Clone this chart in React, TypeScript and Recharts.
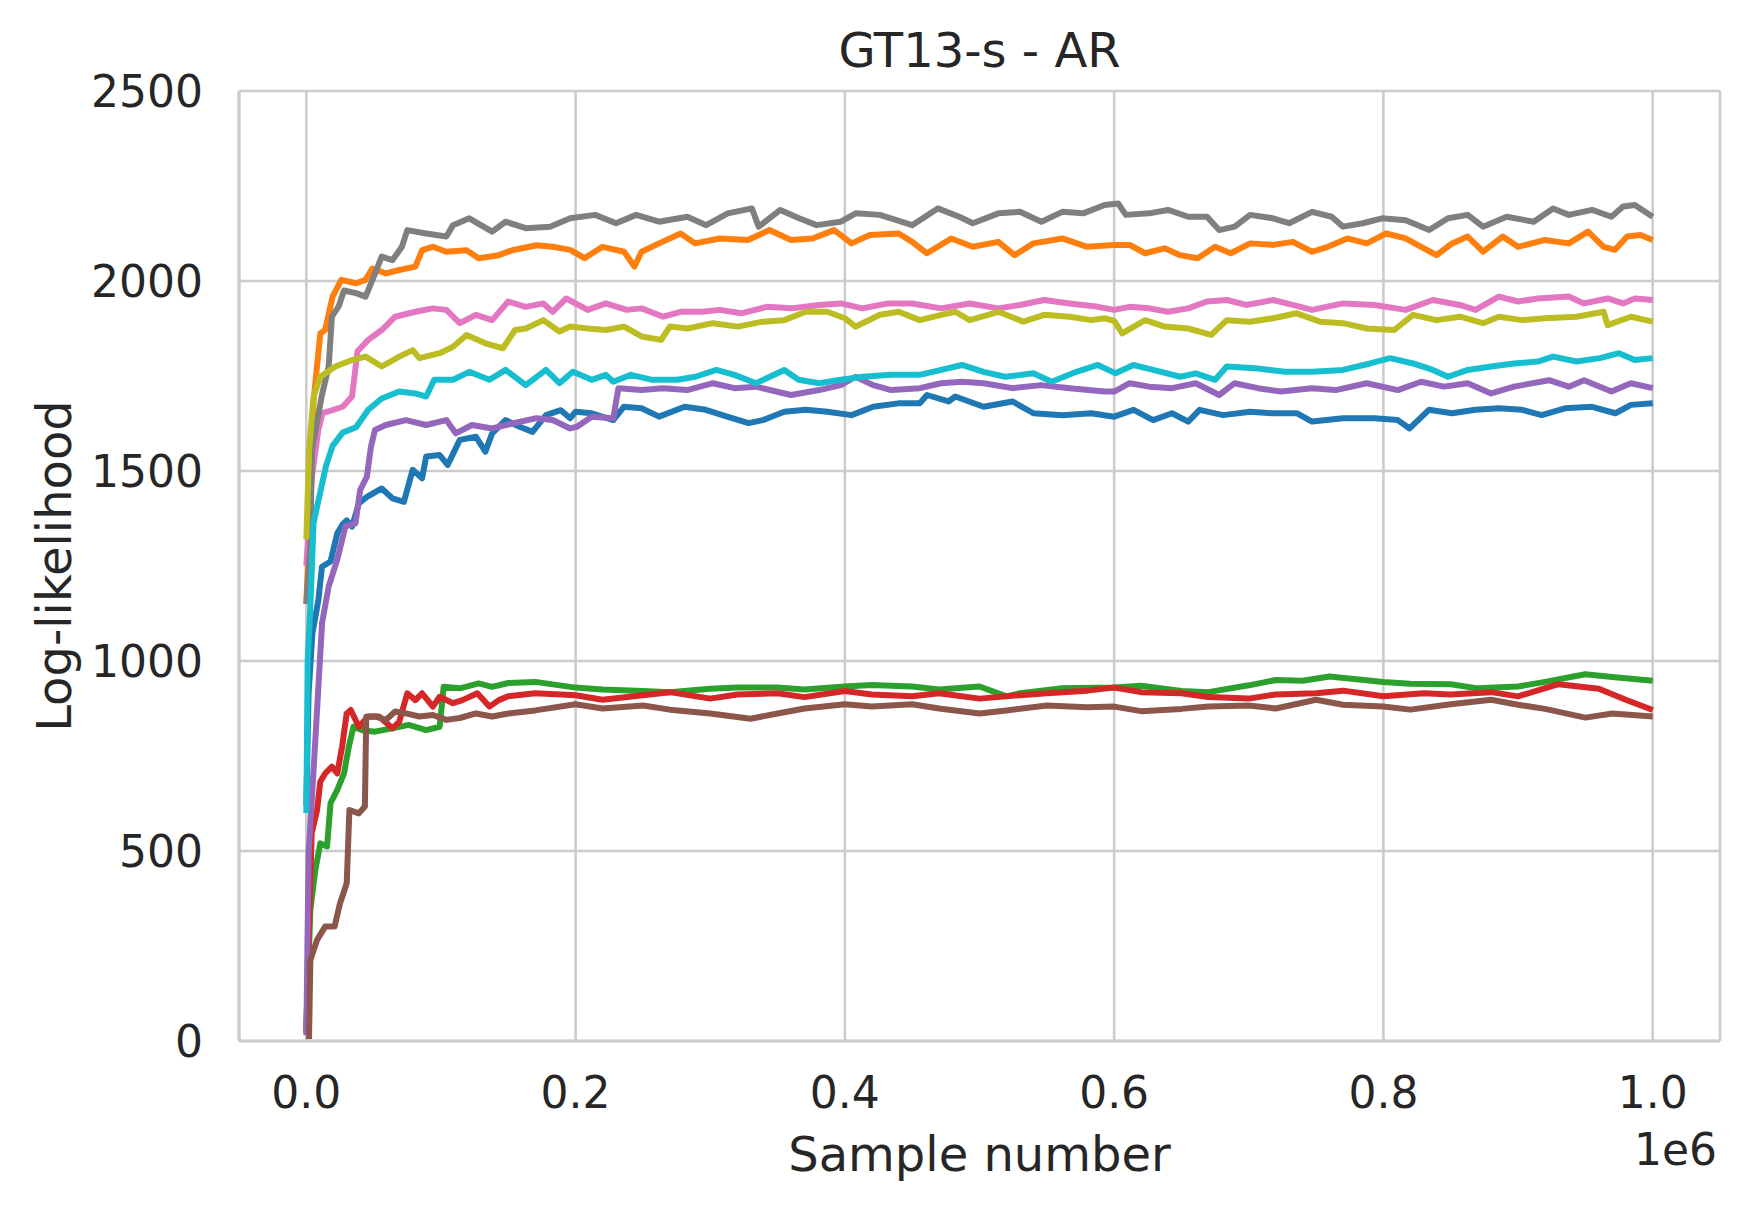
import React from 'react';
import { LineChart, Line, XAxis, YAxis, CartesianGrid, Label } from 'recharts';

// each run: [sample (x 1e6), log-likelihood]
type Pt = [number, number];

const blueRun: Pt[] = [
  [0, 620], [0.0017, 915], [0.0045, 1072], [0.009, 1161], [0.0116, 1248], [0.018, 1262], [0.023, 1336],
  [0.027, 1360], [0.030, 1370], [0.034, 1354], [0.039, 1415], [0.045, 1432], [0.056, 1454], [0.064, 1428],
  [0.0725, 1419], [0.079, 1503], [0.086, 1481], [0.089, 1538], [0.099, 1542], [0.105, 1516], [0.114, 1582],
  [0.126, 1590], [0.133, 1551], [0.138, 1599], [0.148, 1634], [0.158, 1617], [0.168, 1603], [0.178, 1647],
  [0.189, 1660], [0.196, 1639], [0.200, 1656], [0.212, 1652], [0.228, 1634], [0.2358, 1669], [0.249, 1665],
  [0.262, 1643], [0.281, 1669], [0.2967, 1661], [0.3126, 1643], [0.3285, 1626], [0.339, 1634], [0.355, 1656],
  [0.371, 1661], [0.387, 1656], [0.405, 1647], [0.421, 1669], [0.4397, 1678], [0.4556, 1678], [0.461, 1700],
  [0.477, 1683], [0.482, 1696], [0.503, 1669], [0.5245, 1683], [0.540, 1652], [0.5615, 1647], [0.583, 1652],
  [0.600, 1643], [0.6144, 1661], [0.629, 1634], [0.643, 1652], [0.655, 1630], [0.6635, 1661], [0.681, 1647],
  [0.701, 1656], [0.718, 1652], [0.7356, 1652], [0.747, 1630], [0.770, 1639], [0.7934, 1639], [0.8107, 1634],
  [0.8194, 1612], [0.8338, 1661], [0.851, 1652], [0.8684, 1661], [0.8857, 1665], [0.903, 1661], [0.9175, 1647],
  [0.9348, 1665], [0.955, 1669], [0.9723, 1652], [0.9838, 1674], [1.0, 1678],
];

const orangeRun: Pt[] = [
  [0, 1150], [0.002, 1330], [0.0054, 1687], [0.0104, 1862], [0.014, 1871], [0.0195, 1959], [0.026, 2003],
  [0.037, 1994], [0.044, 2003], [0.049, 2033], [0.059, 2020], [0.069, 2029], [0.081, 2038], [0.086, 2081],
  [0.094, 2090], [0.104, 2077], [0.119, 2081], [0.128, 2060], [0.143, 2068], [0.153, 2081], [0.171, 2094],
  [0.183, 2090], [0.196, 2082], [0.2066, 2060], [0.220, 2090], [0.236, 2077], [0.2437, 2038], [0.249, 2077],
  [0.262, 2099], [0.278, 2125], [0.2887, 2099], [0.307, 2112], [0.328, 2108], [0.344, 2134], [0.360, 2108],
  [0.376, 2112], [0.392, 2134], [0.405, 2099], [0.4185, 2121], [0.440, 2125], [0.450, 2103], [0.461, 2073],
  [0.479, 2112], [0.495, 2090], [0.514, 2103], [0.526, 2068], [0.540, 2099], [0.5615, 2112], [0.580, 2090],
  [0.600, 2095], [0.6115, 2095], [0.623, 2073], [0.6375, 2086], [0.649, 2068], [0.662, 2060], [0.675, 2090],
  [0.6866, 2073], [0.701, 2099], [0.718, 2095], [0.7327, 2103], [0.747, 2077], [0.7587, 2090], [0.7732, 2112],
  [0.7876, 2099], [0.802, 2125], [0.8165, 2112], [0.828, 2090], [0.8395, 2068], [0.851, 2099], [0.8626, 2117],
  [0.874, 2077], [0.8886, 2117], [0.900, 2090], [0.920, 2108], [0.9377, 2099], [0.952, 2130], [0.9636, 2090],
  [0.972, 2082], [0.981, 2117], [0.991, 2121], [1.0, 2108],
];

const greenRun: Pt[] = [
  [0, 30], [0.003, 345], [0.0067, 450], [0.0104, 520], [0.0154, 512], [0.018, 626], [0.023, 661], [0.028, 704],
  [0.0316, 775], [0.035, 827], [0.0415, 818], [0.051, 814], [0.064, 823], [0.076, 832], [0.089, 818],
  [0.099, 827], [0.102, 932], [0.114, 928], [0.128, 941], [0.138, 932], [0.15, 942], [0.17, 945], [0.2, 930],
  [0.22, 925], [0.25, 921], [0.27, 918], [0.3, 927], [0.32, 930], [0.35, 930], [0.37, 925], [0.4, 933],
  [0.42, 937], [0.45, 933], [0.47, 925], [0.5, 933], [0.52, 907], [0.53, 915], [0.56, 928], [0.6, 930],
  [0.62, 935], [0.65, 921], [0.67, 918], [0.7, 936], [0.72, 950], [0.74, 948], [0.76, 959], [0.78, 952],
  [0.8, 945], [0.82, 940], [0.85, 939], [0.87, 928], [0.9, 933], [0.92, 945], [0.95, 965], [0.97, 958],
  [1.0, 948],
];

const redRun: Pt[] = [
  [0, 20], [0.0017, 266], [0.004, 547], [0.008, 608], [0.0104, 683], [0.014, 704], [0.019, 722], [0.023, 704],
  [0.0266, 775], [0.030, 862], [0.033, 871], [0.039, 827], [0.046, 854], [0.054, 854], [0.064, 823],
  [0.069, 840], [0.075, 915], [0.081, 897], [0.086, 915], [0.094, 880], [0.099, 906], [0.109, 889],
  [0.116, 897], [0.127, 915], [0.136, 880], [0.143, 897], [0.15, 907], [0.17, 915], [0.2, 910], [0.22, 898],
  [0.25, 910], [0.27, 918], [0.3, 901], [0.32, 912], [0.35, 915], [0.37, 905], [0.4, 921], [0.42, 912],
  [0.45, 907], [0.47, 915], [0.5, 901], [0.53, 910], [0.55, 915], [0.58, 922], [0.6, 930], [0.62, 918],
  [0.65, 915], [0.67, 905], [0.7, 901], [0.72, 912], [0.75, 915], [0.77, 922], [0.8, 907], [0.83, 915],
  [0.85, 912], [0.88, 918], [0.9, 907], [0.93, 939], [0.96, 927], [0.98, 898], [1.0, 871],
];

const purpleRun: Pt[] = [
  [0, 15], [0.0017, 494], [0.0067, 792], [0.0117, 1100], [0.0166, 1196], [0.0229, 1266], [0.029, 1354],
  [0.0365, 1362], [0.040, 1450], [0.045, 1485], [0.048, 1564], [0.051, 1608], [0.059, 1621], [0.074, 1634],
  [0.089, 1621], [0.104, 1634], [0.111, 1599], [0.123, 1621], [0.138, 1612], [0.153, 1625], [0.171, 1639],
  [0.183, 1634], [0.196, 1612], [0.2013, 1617], [0.212, 1643], [0.228, 1639], [0.2318, 1718], [0.249, 1713],
  [0.265, 1718], [0.283, 1713], [0.302, 1731], [0.318, 1718], [0.334, 1722], [0.360, 1700], [0.381, 1713],
  [0.397, 1726], [0.408, 1748], [0.421, 1726], [0.4344, 1713], [0.4556, 1718], [0.4715, 1731], [0.487, 1735],
  [0.503, 1731], [0.5245, 1718], [0.5457, 1726], [0.567, 1718], [0.593, 1709], [0.600, 1709], [0.6115, 1731],
  [0.626, 1722], [0.643, 1718], [0.6606, 1731], [0.678, 1700], [0.6895, 1731], [0.7068, 1718], [0.724, 1709],
  [0.747, 1718], [0.7645, 1713], [0.7876, 1731], [0.8107, 1713], [0.828, 1735], [0.845, 1722], [0.8626, 1731],
  [0.880, 1704], [0.897, 1722], [0.923, 1739], [0.9377, 1722], [0.949, 1739], [0.9694, 1709], [0.9838, 1731],
  [1.0, 1718],
];

const brownRun: Pt[] = [
  [0.002, 5], [0.0025, 108], [0.003, 213], [0.008, 266], [0.014, 301], [0.021, 301], [0.025, 362],
  [0.030, 415], [0.032, 608], [0.039, 599], [0.0435, 617], [0.0445, 853], [0.051, 854], [0.059, 845],
  [0.066, 867], [0.074, 862], [0.084, 854], [0.094, 858], [0.104, 845], [0.114, 850], [0.126, 862],
  [0.138, 854], [0.15, 862], [0.17, 870], [0.2, 886], [0.22, 875], [0.25, 883], [0.27, 872], [0.3, 862],
  [0.33, 848], [0.35, 862], [0.37, 875], [0.4, 886], [0.42, 880], [0.45, 886], [0.47, 875], [0.5, 862],
  [0.52, 870], [0.55, 883], [0.58, 878], [0.6, 880], [0.62, 868], [0.65, 874], [0.67, 880], [0.7, 883],
  [0.72, 875], [0.75, 898], [0.77, 885], [0.8, 880], [0.82, 872], [0.85, 886], [0.88, 898], [0.9, 885],
  [0.92, 874], [0.95, 851], [0.97, 862], [1.0, 854],
];

const pinkRun: Pt[] = [
  [0, 1250], [0.004, 1480], [0.009, 1610], [0.012, 1652], [0.0195, 1660], [0.027, 1669], [0.034, 1696],
  [0.038, 1815], [0.046, 1845], [0.056, 1871], [0.066, 1906], [0.081, 1919], [0.094, 1928], [0.104, 1924],
  [0.114, 1889], [0.126, 1911], [0.138, 1897], [0.150, 1946], [0.163, 1932], [0.176, 1941], [0.183, 1919],
  [0.193, 1954], [0.209, 1924], [0.2225, 1941], [0.238, 1924], [0.249, 1928], [0.265, 1906], [0.278, 1919],
  [0.294, 1919], [0.307, 1924], [0.323, 1915], [0.342, 1932], [0.360, 1928], [0.381, 1937], [0.397, 1941],
  [0.413, 1928], [0.432, 1941], [0.450, 1941], [0.4715, 1928], [0.4927, 1941], [0.514, 1928], [0.530, 1937],
  [0.548, 1950], [0.567, 1941], [0.588, 1932], [0.600, 1924], [0.6115, 1932], [0.626, 1928], [0.640, 1919],
  [0.655, 1928], [0.669, 1946], [0.6837, 1950], [0.698, 1937], [0.718, 1950], [0.7327, 1937], [0.747, 1924],
  [0.770, 1941], [0.7934, 1937], [0.8165, 1924], [0.8367, 1950], [0.8568, 1937], [0.8684, 1924], [0.8857, 1959],
  [0.900, 1946], [0.9146, 1954], [0.9377, 1959], [0.949, 1941], [0.9665, 1954], [0.978, 1941], [0.9867, 1954],
  [1.0, 1950],
];

const grayRun: Pt[] = [
  [0, 1150], [0.003, 1309], [0.0042, 1555], [0.0116, 1700], [0.0166, 1775], [0.019, 1906], [0.024, 1933],
  [0.028, 1975], [0.037, 1968], [0.044, 1959], [0.050, 2011], [0.056, 2064], [0.064, 2055], [0.071, 2090],
  [0.075, 2134], [0.089, 2125], [0.104, 2117], [0.109, 2147], [0.121, 2165], [0.138, 2130], [0.148, 2156],
  [0.163, 2139], [0.181, 2143], [0.196, 2165], [0.2146, 2174], [0.230, 2152], [0.245, 2174], [0.262, 2156],
  [0.283, 2169], [0.297, 2147], [0.313, 2178], [0.331, 2191], [0.336, 2143], [0.352, 2187], [0.366, 2165],
  [0.379, 2147], [0.397, 2156], [0.408, 2178], [0.426, 2174], [0.450, 2147], [0.469, 2191], [0.485, 2169],
  [0.495, 2152], [0.514, 2178], [0.530, 2182], [0.546, 2156], [0.5615, 2182], [0.577, 2178], [0.593, 2200],
  [0.603, 2204], [0.6087, 2174], [0.626, 2178], [0.640, 2187], [0.655, 2169], [0.669, 2169], [0.678, 2134],
  [0.6895, 2143], [0.701, 2174], [0.718, 2165], [0.730, 2152], [0.747, 2182], [0.7616, 2169], [0.770, 2143],
  [0.7847, 2152], [0.799, 2165], [0.8165, 2160], [0.834, 2134], [0.848, 2165], [0.8626, 2174], [0.874, 2143],
  [0.8915, 2169], [0.9117, 2156], [0.926, 2191], [0.9377, 2174], [0.955, 2187], [0.9694, 2169], [0.978, 2196],
  [0.9867, 2200], [1.0, 2169],
];

const oliveRun: Pt[] = [
  [0, 1320], [0.0021, 1555], [0.0054, 1696], [0.0104, 1748], [0.0215, 1775], [0.034, 1792], [0.044, 1801],
  [0.056, 1775], [0.069, 1801], [0.079, 1818], [0.084, 1797], [0.099, 1810], [0.109, 1827], [0.119, 1858],
  [0.133, 1836], [0.146, 1823], [0.155, 1871], [0.163, 1875], [0.176, 1897], [0.188, 1867], [0.196, 1880],
  [0.209, 1875], [0.2225, 1871], [0.236, 1880], [0.249, 1854], [0.2636, 1845], [0.270, 1880], [0.283, 1875],
  [0.302, 1889], [0.3205, 1880], [0.339, 1893], [0.355, 1897], [0.371, 1919], [0.387, 1919], [0.400, 1902],
  [0.408, 1880], [0.426, 1911], [0.440, 1919], [0.4556, 1897], [0.4715, 1911], [0.482, 1919], [0.4927, 1897],
  [0.514, 1919], [0.5325, 1893], [0.548, 1911], [0.567, 1906], [0.583, 1897], [0.593, 1902], [0.600, 1895],
  [0.606, 1862], [0.623, 1897], [0.6375, 1880], [0.655, 1875], [0.672, 1858], [0.6837, 1897], [0.701, 1893],
  [0.718, 1902], [0.7356, 1915], [0.753, 1893], [0.770, 1889], [0.7876, 1875], [0.808, 1871], [0.822, 1911],
  [0.8395, 1897], [0.8568, 1906], [0.874, 1889], [0.8857, 1906], [0.903, 1897], [0.920, 1902], [0.9435, 1906],
  [0.9636, 1919], [0.9665, 1884], [0.9838, 1906], [1.0, 1893],
];

const cyanRun: Pt[] = [
  [0, 600], [0.001, 1000], [0.003, 1144], [0.0054, 1364], [0.0097, 1434], [0.0146, 1513], [0.0195, 1566],
  [0.027, 1601], [0.037, 1615], [0.046, 1661], [0.056, 1691], [0.069, 1709], [0.081, 1704], [0.089, 1696],
  [0.095, 1740], [0.109, 1740], [0.121, 1761], [0.136, 1740], [0.148, 1766], [0.163, 1726], [0.178, 1766],
  [0.188, 1731], [0.198, 1761], [0.212, 1740], [0.2225, 1753], [0.228, 1735], [0.241, 1753], [0.257, 1740],
  [0.2755, 1740], [0.289, 1748], [0.3046, 1766], [0.318, 1753], [0.334, 1731], [0.355, 1766], [0.3656, 1740],
  [0.381, 1731], [0.397, 1740], [0.413, 1748], [0.4344, 1753], [0.4556, 1753], [0.4715, 1766], [0.487, 1779],
  [0.503, 1761], [0.519, 1748], [0.540, 1757], [0.5536, 1735], [0.572, 1761], [0.588, 1779], [0.601, 1757],
  [0.6144, 1779], [0.629, 1766], [0.649, 1748], [0.6606, 1757], [0.675, 1740], [0.6837, 1775], [0.7068, 1770],
  [0.727, 1761], [0.747, 1761], [0.770, 1766], [0.790, 1783], [0.805, 1797], [0.822, 1783], [0.8367, 1766],
  [0.848, 1748], [0.8626, 1766], [0.880, 1775], [0.897, 1783], [0.9146, 1788], [0.926, 1801], [0.9435, 1788],
  [0.9607, 1797], [0.975, 1810], [0.9867, 1792], [1.0, 1797],
];

const xTicks = [0, 0.2, 0.4, 0.6, 0.8, 1.0];
const yTicks = [0, 500, 1000, 1500, 2000, 2500];

const runs = [
  { id: 'r0', color: '#1f77b4', points: blueRun },
  { id: 'r1', color: '#ff7f0e', points: orangeRun },
  { id: 'r2', color: '#2ca02c', points: greenRun },
  { id: 'r3', color: '#d62728', points: redRun },
  { id: 'r4', color: '#9467bd', points: purpleRun },
  { id: 'r5', color: '#8c564b', points: brownRun },
  { id: 'r6', color: '#e377c2', points: pinkRun },
  { id: 'r7', color: '#7f7f7f', points: grayRun },
  { id: 'r8', color: '#bcbd22', points: oliveRun },
  { id: 'r9', color: '#17becf', points: cyanRun },
];

const W = 1749;
const H = 1212;
const FONT = 'DejaVu Sans';
const INK = '#262626';
const GRID = '#cccccc';

const App: React.FC = () => {
  const tickStyle = { fill: INK, fontSize: 44, fontFamily: FONT };

  return (
    <div style={{ position: 'absolute', left: 0, top: 0, width: W, height: H, background: '#fff' }}>
      <LineChart width={W} height={H} margin={{ top: 91, right: 29, left: 0, bottom: 0 }} style={{ fontFamily: FONT }}>
        <CartesianGrid stroke={GRID} strokeWidth={2.6} />
        <XAxis
          type="number"
          dataKey="x"
          domain={[-0.05, 1.05]}
          allowDataOverflow
          ticks={xTicks}
          interval={0}
          tickFormatter={(v: number) => v.toFixed(1)}
          tick={tickStyle}
          tickLine={false}
          tickSize={0}
          tickMargin={36}
          height={171}
          axisLine={{ stroke: GRID, strokeWidth: 3.2 }}
        >
          <Label value="Sample number" position="insideBottom" offset={41} fill={INK} fontSize={48} fontFamily={FONT} />
        </XAxis>
        <YAxis
          type="number"
          domain={[0, 2500]}
          allowDataOverflow
          ticks={yTicks}
          interval={0}
          tick={tickStyle}
          tickLine={false}
          tickSize={0}
          tickMargin={36}
          width={239}
          axisLine={{ stroke: GRID, strokeWidth: 3.2 }}
        >
          <Label
            value="Log-likelihood"
            angle={-90}
            position="insideLeft"
            offset={54}
            fill={INK}
            fontSize={48}
            fontFamily={FONT}
            style={{ textAnchor: 'middle' }}
          />
        </YAxis>
        <YAxis
          yAxisId="right"
          orientation="right"
          domain={[0, 2500]}
          width={0}
          tick={false}
          tickLine={false}
          axisLine={{ stroke: GRID, strokeWidth: 3.2 }}
        />
        {runs.map((r) => (
          <Line
            key={r.id}
            data={r.points.map(([x, y]) => ({ x, y }))}
            dataKey="y"
            type="linear"
            stroke={r.color}
            strokeWidth={6}
            strokeLinejoin="round"
            dot={false}
            activeDot={false}
            isAnimationActive={false}
          />
        ))}
      </LineChart>
      <svg width={W} height={H} style={{ position: 'absolute', left: 0, top: 0, pointerEvents: 'none' }}>
        <text x={979.5} y={67} textAnchor="middle" fill={INK} fontSize={48} fontFamily={FONT}>
          GT13-s - AR
        </text>
        <text x={1717} y={1165} textAnchor="end" fill={INK} fontSize={44} fontFamily={FONT}>
          1e6
        </text>
      </svg>
    </div>
  );
};

export default App;
